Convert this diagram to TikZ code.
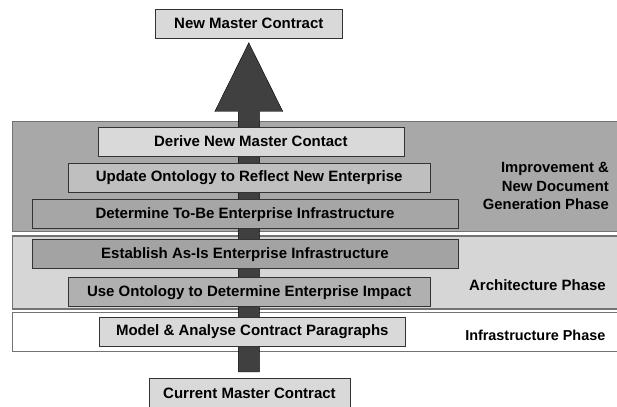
\documentclass[tikz,border=0pt]{standalone}
\usepackage{fontspec}
\setmainfont{Liberation Sans}
\usepackage{tikz}
\usetikzlibrary{positioning}
\usetikzlibrary{calc}
\tikzstyle{phase}=[draw=black!55,line width=1.2pt,inner sep=0pt]
\tikzstyle{stepbox}=[draw=black!80,thin,inner sep=0pt,minimum height=29pt,font=\bfseries\fontsize{15}{18}\selectfont]
\tikzstyle{phaselabel}=[anchor=east,align=right,inner sep=0pt]
\tikzstyle{bigarrow}=[draw=black,thin,fill=black!75]

\begin{document}
\begin{tikzpicture}[x=1pt,y=1pt]
    \useasboundingbox (0,0) rectangle (617,406);
    % Draw the three phase bands first
    \foreach \pos/\bandh/\col/\name in {{(318.85,229.3)/110/black!34/improve}, {(318.85,133.5)/73/black!16/arch}, {(318.85,73.8)/39/white/infra}}
        \node[phase,fill=\col,minimum width=612.3pt,minimum height=\bandh pt] (\name) at \pos {};

    % Start and end contract
    \node[stepbox,fill=black!15,minimum width=187pt] (new) at (248.8,382.5) {New Master Contract};
    \node[stepbox,fill=black!15,minimum width=201pt] (cur) at (249.5,13) {Current Master Contract};

    % The big arrow between them
    \def\sw{10.5}
    \def\hw{34}
    \def\hl{68.7}
    \coordinate (tip) at ($(new.south)+(0,-4.6)$);
    \coordinate (tail) at ($(tip |- cur.north)+(0,6.3)$);
    \draw[bigarrow] ($(tail)+(-\sw,0)$) -- ($(tip)+(-\sw,-\hl)$) -- ($(tip)+(-\hw,-\hl)$) -- (tip)
        -- ($(tip)+(\hw,-\hl)$) -- ($(tip)+(\sw,-\hl)$) -- ($(tail)+(\sw,0)$) -- cycle;

    % Then the steps on top of the arrow
    \foreach \pos/\boxw/\col/\name/\label in {{(250.85,264.65)/306.3/black!15/derive/Derive New Master Contact},
        {(249.15,228.2)/361.7/black!25/update/Update Ontology to Reflect New Enterprise},
        {(245,191.85)/425.4/black!35/tobe/Determine To-Be Enterprise Infrastructure},
        {(245,151.85)/425.4/black!36/asis/Establish As-Is Enterprise Infrastructure},
        {(249.15,113.8)/361.7/black!31/impact/Use Ontology to Determine Enterprise Impact},
        {(252.3,74.65)/306/black!15/model/Model \& Analyse Contract Paragraphs}}
        \node[stepbox,fill=\col,minimum width=\boxw pt] (\name) at \pos {\label};

    % Phase names
    \node[phaselabel,font=\bfseries\fontsize{14.8}{18.3}\selectfont] (improvelbl) at (609,220) {Improvement \&\\New Document\\Generation Phase};
    \node[phaselabel,font=\bfseries\fontsize{15}{18}\selectfont] (archlbl) at (606,121) {Architecture Phase};
    \node[phaselabel,font=\bfseries\fontsize{14.4}{18}\selectfont] (infralbl) at (605.5,71) {Infrastructure Phase};
\end{tikzpicture}
\end{document}
